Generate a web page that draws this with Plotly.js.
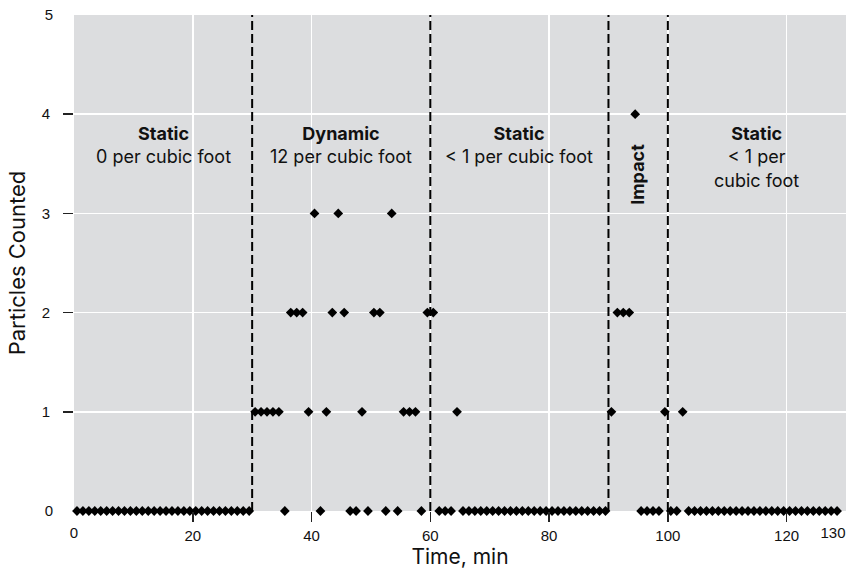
<!DOCTYPE html>
<html><head><meta charset="utf-8">
<script src="https://cdn.plot.ly/plotly-3.0.1.min.js"></script>
<style>html,body{margin:0;padding:0;background:#fff}#chart{width:867px;height:569px}</style>
</head><body><div id="chart"></div>
<script>
// Sample times (min) and particle counts
const timeMin = [
  0.5,1.5,2.5,3.5,4.5,5.5,6.5,7.5,8.5,9.5,
  10.5,11.5,12.5,13.5,14.5,15.5,16.5,17.5,18.5,19.5,
  20.5,21.5,22.5,23.5,24.5,25.5,26.5,27.5,28.5,29.5,
  30.5,31.5,32.5,33.5,34.5,35.5,36.5,37.5,38.5,39.5,
  40.5,41.5,42.5,43.5,44.5,45.5,46.5,47.5,48.5,49.5,
  50.5,51.5,52.5,53.5,54.5,55.5,56.5,57.5,58.5,59.5,
  60.5,61.5,62.5,63.5,64.5,65.5,66.5,67.5,68.5,69.5,
  70.5,71.5,72.5,73.5,74.5,75.5,76.5,77.5,78.5,79.5,
  80.5,81.5,82.5,83.5,84.5,85.5,86.5,87.5,88.5,89.5,
  90.5,91.5,92.5,93.5,94.5,95.5,96.5,97.5,98.5,99.5,
  100.5,101.5,102.5,103.5,104.5,105.5,106.5,107.5,108.5,109.5,
  110.5,111.5,112.5,113.5,114.5,115.5,116.5,117.5,118.5,119.5,
  120.5,121.5,122.5,123.5,124.5,125.5,126.5,127.5,128.5
];
const particleCounts = [
  0,0,0,0,0,0,0,0,0,0,
  0,0,0,0,0,0,0,0,0,0,
  0,0,0,0,0,0,0,0,0,0,
  1,1,1,1,1,0,2,2,2,1,
  3,0,1,2,3,2,0,0,1,0,
  2,2,0,3,0,1,1,1,0,2,
  2,0,0,0,1,0,0,0,0,0,
  0,0,0,0,0,0,0,0,0,0,
  0,0,0,0,0,0,0,0,0,0,
  1,2,2,2,4,0,0,0,0,1,
  0,0,1,0,0,0,0,0,0,0,
  0,0,0,0,0,0,0,0,0,0,
  0,0,0,0,0,0,0,0,0
];
const phaseBounds = [0, 30, 60, 90, 100, 130];
const phaseNames = ['Static', 'Dynamic', 'Static', 'Impact', 'Static'];
const phaseRates = ['0 per cubic foot', '12 per cubic foot', '&lt; 1 per cubic foot', '', '&lt; 1 per<br>cubic foot'];
const xTickVals = [20, 40, 60, 80, 100, 120];
const xEndVals = [0];
const xLastVals = [130];
const yTickVals = [1, 2, 3, 4];
const yEndVals = [0, 5];

const FONT = 'Inter, Liberation Sans, Arial, sans-serif';
const TICKFONT = 'Liberation Sans, Arial, Helvetica, sans-serif';
const INK = '#111';

const traces = [
  {x: timeMin, y: particleCounts, type: 'scatter', mode: 'markers',
   marker: {symbol: 'diamond', size: 7.5, color: '#000'}, cliponaxis: false, showlegend: false, hoverinfo: 'x+y'},
  {x: [], y: [], xaxis: 'x2', yaxis: 'y', type: 'scatter', showlegend: false},
  {x: [], y: [], xaxis: 'x3', yaxis: 'y', type: 'scatter', showlegend: false},
  {x: [], y: [], xaxis: 'x', yaxis: 'y2', type: 'scatter', showlegend: false}
];

const shapes = phaseBounds.slice(1, -1).map(b => ({
  type: 'line', xref: 'x', yref: 'y', x0: b, x1: b, y0: 0, y1: 5, layer: 'between',
  line: {color: '#000', width: 2, dash: '9px,4px'}
}));

const annotations = [];
for (let i = 0; i < phaseNames.length; i++) {
  const mid = (phaseBounds[i] + phaseBounds[i + 1]) / 2;
  if (phaseNames[i] === 'Impact') {
    annotations.push({x: mid, y: 3.39, xref: 'x', yref: 'y', text: '<b>' + phaseNames[i] + '</b>',
      textangle: -90, showarrow: false, font: {family: FONT, size: 18, color: INK}});
  } else {
    annotations.push({x: mid, y: 3.93, yanchor: 'top', xref: 'x', yref: 'y',
      text: '<b>' + phaseNames[i] + '</b><br>' + phaseRates[i],
      showarrow: false, align: 'center', font: {family: FONT, size: 18, color: INK}});
  }
}

const baseX = {range: [0, 130], zeroline: false, showline: false, fixedrange: true,
  tickfont: {family: TICKFONT, size: 15, color: INK}};
const baseY = {range: [0, 5], zeroline: false, showline: false, fixedrange: true,
  tickfont: {family: TICKFONT, size: 15, color: INK}};

const layout = {
  width: 867, height: 569,
  margin: {l: 74, r: 21, t: 15, b: 58},
  paper_bgcolor: '#ffffff', plot_bgcolor: '#dcdddf',
  font: {family: FONT, color: INK},
  showlegend: false,
  xaxis: Object.assign({}, baseX, {
    tickmode: 'array', tickvals: xTickVals, ticks: 'outside', ticklen: 10, tickwidth: 1.5, tickcolor: '#222',
    showgrid: true, gridcolor: '#ffffff', gridwidth: 1.5, ticklabelstandoff: 1,
    title: {text: 'Time, min', font: {family: FONT, size: 21, color: INK}, standoff: 4}
  }),
  xaxis2: Object.assign({}, baseX, {
    overlaying: 'x', matches: 'x', anchor: 'y', side: 'bottom',
    tickmode: 'array', tickvals: xEndVals, ticks: '', showgrid: false, ticklabelstandoff: 11
  }),
  xaxis3: Object.assign({}, baseX, {
    overlaying: 'x', matches: 'x', anchor: 'y', side: 'bottom',
    tickmode: 'array', tickvals: xLastVals, ticks: '', showgrid: false, ticklabelstandoff: 11, ticklabelshift: -13
  }),
  yaxis: Object.assign({}, baseY, {
    tickmode: 'array', tickvals: yTickVals, ticks: 'outside', ticklen: 10, tickwidth: 1.5, tickcolor: '#222',
    showgrid: true, gridcolor: '#ffffff', gridwidth: 1.5, ticklabelstandoff: 10,
    title: {text: 'Particles Counted', font: {family: FONT, size: 22, color: INK}, standoff: 9}
  }),
  yaxis2: Object.assign({}, baseY, {
    overlaying: 'y', matches: 'y', anchor: 'x', side: 'left',
    tickmode: 'array', tickvals: yEndVals, ticks: '', showgrid: false, ticklabelstandoff: 20
  }),
  shapes: shapes,
  annotations: annotations
};

Plotly.newPlot('chart', traces, layout, {staticPlot: true, displayModeBar: false});
</script>
</body></html>
